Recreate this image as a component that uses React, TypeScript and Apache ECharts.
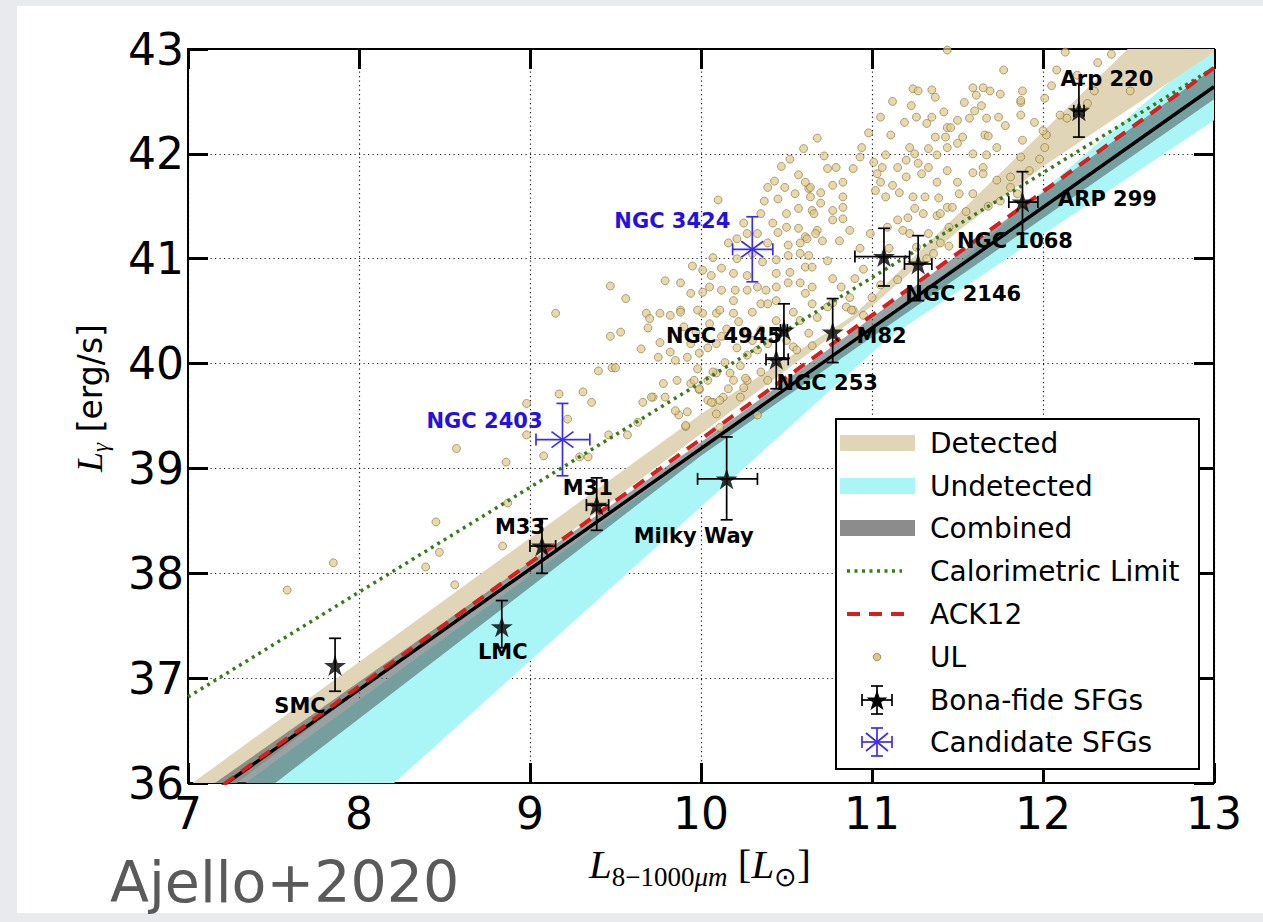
import React, { useEffect, useRef } from "react";
import * as echarts from "echarts";

// ---------- axis ranges ----------
const xRange = [7, 13];
const yRange = [36, 43];

// ---------- fit lines (x endpoints, y endpoints) ----------
const fitX = [7, 13];
const combinedFitY = [35.74, 42.64];
const ack12Y = [35.74, 42.82];
const calorimetricY = [36.82, 42.82];

// ---------- uncertainty bands (edge vertices, data units) ----------
const detectedUpper = [[7, 35.97], [10, 39.52], [10.9, 40.47], [13, 43.8]];
const detectedLower = [[7, 35.65], [10, 39.33], [11, 40.55], [11.5, 41.26], [12, 41.88], [13, 42.97]];
const undetectedUpper = [[7, 35.6], [11.5, 40.95], [13, 43.05]];
const undetectedLower = [[7, 34.23], [11.1, 40.25], [13, 42.32]];
const combinedUpper = [[7, 35.82], [10, 39.25], [13, 42.82]];
const combinedLower = [[7, 35.36], [10, 39.12], [13, 42.52]];

// ---------- bona-fide SFGs ----------
const sfgNames = ["SMC", "LMC", "M33", "M31", "Milky Way", "NGC 253", "NGC 4945", "M82", "NGC 2146", "NGC 1068", "ARP 299", "Arp 220"];
const sfgLIR = [7.86, 8.835, 9.07, 9.39, 10.15, 10.44, 10.485, 10.77, 11.27, 11.07, 11.88, 12.21];
const sfgLg = [37.12, 37.49, 38.26, 38.65, 38.9, 40.04, 40.32, 40.3, 40.95, 41.02, 41.54, 42.41];
const sfgXErrLo = [0, 0, 0.07, 0.06, 0.17, 0.06, 0.02, 0, 0.08, 0.17, 0.08, 0.03];
const sfgXErrHi = [0, 0, 0.08, 0.07, 0.18, 0.07, 0.02, 0, 0.08, 0.15, 0.09, 0.03];
const sfgYErrLo = [0.245, 0.2, 0.26, 0.24, 0.39, 0.28, 0.27, 0.29, 0.35, 0.28, 0.3, 0.25];
const sfgYErrHi = [0.26, 0.25, 0.26, 0.26, 0.4, 0.28, 0.25, 0.32, 0.27, 0.27, 0.29, 0.26];
// label offsets from the star (pixels)
const sfgLabelOffset = [[-35, 40], [1, 25], [-22, -19], [-9, -17], [-33, 57], [51, 24], [-60, 6], [49, 4], [45, 30], [131, -16], [85, -3], [28, -32]];

// ---------- candidate SFGs ----------
const candNames = ["NGC 3424", "NGC 2403"];
const candLIR = [10.3, 9.19];
const candLg = [41.09, 39.275];
const candXErrLo = [0.115, 0.155];
const candXErrHi = [0.12, 0.16];
const candYErrLo = [0.31, 0.345];
const candYErrHi = [0.31, 0.345];
const candLabelOffset = [[-80, -28], [-78, -19]];

// ---------- upper limits (UL) ----------
const ulPoints = [
  [7.58, 37.84], [7.85, 38.1], [8.39, 38.06], [8.56, 37.89], [8.45, 38.49], [8.47, 38.2], [8.84, 38.26], [8.87, 38.67],
  [8.57, 39.19], [8.86, 39.06], [8.98, 39.62], [8.98, 39.32], [9.08, 39.12], [9.17, 39.71], [9.22, 39.47], [9.31, 39.73],
  [9.36, 39.63], [9.29, 39.11], [9.34, 39.11], [9.46, 39.32], [9.57, 39.32], [9.63, 39.44], [9.48, 39.96], [9.4, 39.93],
  [9.5, 39.96], [9.15, 40.48], [9.47, 40.26], [9.53, 40.3], [9.47, 40.74], [9.56, 40.62], [9.68, 40.48], [9.65, 40.14],
  [9.66, 39.63], [9.72, 39.68], [9.87, 39.51], [9.91, 39.4], [9.78, 39.81], [9.94, 39.81], [9.99, 39.75], [10.07, 39.63],
  [10.13, 39.68], [10.23, 39.68], [10.33, 39.51], [10.19, 39.84], [10.09, 39.91], [10.27, 39.84], [10.39, 39.84],
  [9.76, 40.48], [9.82, 40.46], [9.7, 40.43], [9.88, 40.51], [9.69, 40.34], [9.76, 40.2], [9.82, 40.11], [9.75, 40.06],
  [9.85, 40.03], [9.92, 40.06], [9.94, 40.19], [9.99, 40.1], [10.04, 40.15], [10.09, 40.19], [10.14, 40.01], [10.21, 40.15],
  [10.27, 40.08], [10.33, 40.13], [10.39, 40.19], [10.23, 39.98], [10.35, 39.92], [10.17, 39.91], [10.07, 39.92], [10.04, 39.84],
  [9.96, 39.84], [9.86, 39.84], [9.98, 39.95], [9.71, 39.68], [9.79, 39.68], [9.85, 39.55], [9.92, 39.54], [9.91, 39.41],
  [9.99, 39.76], [10.04, 39.65], [10.09, 39.52], [10.11, 39.65], [10.16, 39.76], [10.25, 39.77], [10.01, 40.48], [10.09, 40.48],
  [10.19, 40.48], [10.3, 40.49], [10.35, 40.57], [10.44, 40.41], [10.54, 40.49], [10.58, 40.41], [10.63, 40.29], [10.68, 40.44],
  [10.74, 40.54], [10.85, 40.54], [10.89, 40.51], [10.95, 40.46], [10.54, 40.16], [10.56, 40.13], [10.35, 40.32], [10.27, 40.29],
  [10.65, 40.17], [10.26, 39.86], [10.11, 39.39], [10.06, 39.63],
  [10.43, 41.74], [10.1, 41.56], [10.37, 41.55], [10.45, 41.57], [10.57, 41.48], [10.63, 41.67], [10.25, 41.34], [10.42, 41.34],
  [10.45, 41.25], [10.5, 41.3], [10.57, 41.29], [10.61, 41.21], [10.16, 41.15], [10.21, 41.19], [10.07, 41.01], [10.12, 40.91],
  [10.19, 40.86], [10.21, 41.0], [10.27, 40.84], [10.36, 40.97], [10.44, 40.99], [10.44, 40.86], [10.51, 41.03], [10.52, 40.87],
  [10.58, 41.05], [10.61, 40.92], [9.95, 40.93], [10.01, 40.89], [10.06, 40.84], [10.05, 40.73], [10.01, 40.68], [10.12, 40.7],
  [10.2, 40.7], [10.27, 40.7], [10.33, 40.73], [10.38, 40.7], [10.44, 40.73], [10.51, 40.77], [10.58, 40.77], [10.39, 40.57],
  [9.79, 40.79], [9.88, 40.49],
  [11.44, 42.99], [11.77, 42.8], [11.24, 42.62], [11.27, 42.6], [11.35, 42.61], [11.37, 42.54], [11.59, 42.63], [11.69, 42.6],
  [11.75, 42.57], [11.61, 42.56], [11.54, 42.49], [11.23, 42.46], [11.42, 42.4], [11.6, 42.41], [11.64, 42.46], [11.87, 42.49],
  [11.88, 42.6], [11.19, 42.3], [11.26, 42.35], [11.35, 42.35], [11.32, 42.29], [11.44, 42.25], [11.5, 42.32], [11.57, 42.34],
  [11.67, 42.34], [11.74, 42.35], [11.78, 42.27], [11.87, 42.37], [11.37, 42.16], [11.43, 42.16], [11.53, 42.16], [11.5, 42.1],
  [11.44, 42.06], [11.66, 42.18], [11.73, 42.06], [11.67, 41.99], [11.59, 42.0], [11.38, 41.99], [11.33, 42.05], [11.25, 42.0],
  [11.22, 42.06], [11.08, 41.99], [11.11, 42.18], [10.94, 42.06], [10.93, 41.97], [11.01, 41.92], [11.06, 41.87], [11.03, 41.81],
  [11.15, 41.87], [11.2, 41.94], [11.27, 41.91], [11.33, 41.87], [11.29, 41.81], [11.2, 41.78], [11.12, 41.7], [11.05, 41.73],
  [11.02, 41.65], [11.08, 41.59], [11.16, 41.63], [11.24, 41.59], [11.31, 41.59], [11.39, 41.58], [11.25, 41.48], [11.3, 41.43],
  [11.21, 41.39], [11.15, 41.37], [11.18, 41.27], [11.09, 41.3], [10.99, 41.24], [10.87, 41.27], [10.83, 41.38], [10.83, 41.49],
  [10.77, 41.46], [10.7, 41.53], [10.65, 41.46], [10.77, 41.37], [10.68, 41.27], [10.62, 41.19], [10.71, 41.17], [10.81, 41.17],
  [10.63, 41.03], [10.74, 40.98], [10.65, 40.92], [10.77, 40.81], [10.65, 40.73], [10.82, 40.73], [10.9, 40.81], [10.77, 40.58],
  [10.87, 40.63], [11.0, 40.63], [10.88, 40.51], [11.22, 41.24], [11.33, 41.24], [11.26, 41.11], [11.38, 41.41], [11.44, 41.49],
  [11.51, 41.62], [11.59, 41.62], [11.5, 41.73], [11.73, 41.75], [11.81, 41.78], [11.59, 41.82], [11.65, 41.87], [11.38, 41.73],
  [11.44, 41.84], [12.13, 42.97], [12.32, 42.87], [12.08, 42.8], [12.01, 42.53], [12.02, 42.18], [12.01, 42.06], [11.88, 42.13],
  [11.87, 41.97], [12.26, 42.48], [12.51, 42.6], [10.64, 41.68], [10.7, 41.63], [10.77, 41.7], [10.83, 41.73], [10.89, 41.86],
  [10.83, 41.59], [10.79, 41.87], [10.74, 41.86], [11.92, 41.84], [11.65, 41.81], [11.68, 42.17], [11.87, 42.51], [12.1, 42.37],
  [12.14, 42.34], [11.47, 41.49], [11.4, 41.43], [11.81, 41.68], [11.65, 42.63], [11.46, 42.25], [12.0, 42.22], [11.05, 42.35],
  [11.12, 42.5], [10.98, 42.2], [10.52, 41.95], [10.6, 42.05], [10.47, 41.88], [10.68, 42.15], [10.72, 41.98], [10.57, 41.8],
  [11.1, 41.1], [11.15, 40.8], [11.05, 40.75], [10.95, 40.9], [10.93, 41.1], [11.32, 41.0], [11.4, 41.15], [11.45, 41.3],
  [11.55, 41.45],
  [10.64, 41.59], [10.66, 41.43], [10.67, 41.24], [10.58, 41.15], [10.51, 41.13], [10.39, 41.15], [10.33, 41.24], [10.3, 41.05],
  [10.27, 41.24], [10.35, 41.43], [10.5, 41.43], [10.55, 41.62], [10.49, 41.68], [10.39, 41.68], [10.61, 41.73], [9.94, 40.67],
  [9.88, 40.77], [9.98, 40.51], [10.11, 40.51], [10.19, 40.6], [10.44, 40.6], [10.61, 40.67], [10.65, 40.57], [11.36, 41.05],
  [11.45, 41.12], [11.68, 41.5], [11.75, 41.55], [11.85, 41.62], [12.05, 42.65], [12.2, 42.75], [12.4, 42.95], [12.3, 42.6],
  [11.95, 42.3], [11.98, 41.95], [9.97, 40.3], [10.05, 40.38], [10.15, 40.33], [10.22, 40.4], [10.12, 40.26], [9.9, 40.35],
  [10.3, 40.22], [10.45, 40.3], [10.5, 40.22],
];

// ---------- legend entries ----------
const legendLabels = ["Detected", "Undetected", "Combined", "Calorimetric Limit", "ACK12", "UL", "Bona-fide SFGs", "Candidate SFGs"];

// ---------- styles ----------
const TAN = "#e1d5b8";
const CYAN = "#aaf5f5";
const GRAY_BAND = "rgba(80,95,95,0.58)";
const BLUE = "#2410e0";
const BLUE_LINE = "#3b2ee8";
const GREEN = "#3a7a1a";
const RED = "#d42020";
const STAR_PATH = "path://M50,0 L61.8,36.2 L100,36.2 L69.1,58.6 L80.9,95.1 L50,72.6 L19.1,95.1 L30.9,58.6 L0,36.2 L38.2,36.2 Z";
const SANS = "DejaVu Sans";
const SERIF = "Liberation Serif";

function bandSeries(upper: number[][], lower: number[][], color: string, z: number) {
  return {
    type: "custom",
    coordinateSystem: "cartesian2d",
    clip: true,
    silent: true,
    z,
    data: [[10, 40]],
    renderItem: (_params: any, api: any) => {
      const pts = upper.map((p) => api.coord(p)).concat(lower.slice().reverse().map((p) => api.coord(p)));
      return { type: "polygon", shape: { points: pts }, style: { fill: color } };
    },
  };
}

function errorSeries(rows: number[][], color: string, cross: boolean, z: number) {
  return {
    type: "custom",
    coordinateSystem: "cartesian2d",
    silent: true,
    z,
    data: rows,
    renderItem: (_params: any, api: any) => {
      const x = api.value(0), y = api.value(1);
      const xl = api.value(2), xh = api.value(3), yl = api.value(4), yh = api.value(5);
      const c = api.coord([x, y]);
      const top = api.coord([x, y + yh]);
      const bot = api.coord([x, y - yl]);
      const lft = api.coord([x - xl, y]);
      const rgt = api.coord([x + xh, y]);
      const st = { stroke: color, lineWidth: 1.7 };
      const cap = 6;
      const ch: any[] = [
        { type: "line", shape: { x1: c[0], y1: top[1], x2: c[0], y2: bot[1] }, style: st },
        { type: "line", shape: { x1: c[0] - cap, y1: top[1], x2: c[0] + cap, y2: top[1] }, style: st },
        { type: "line", shape: { x1: c[0] - cap, y1: bot[1], x2: c[0] + cap, y2: bot[1] }, style: st },
      ];
      if (xl > 0 || xh > 0) {
        ch.push({ type: "line", shape: { x1: lft[0], y1: c[1], x2: rgt[0], y2: c[1] }, style: st });
        ch.push({ type: "line", shape: { x1: lft[0], y1: c[1] - cap, x2: lft[0], y2: c[1] + cap }, style: st });
        ch.push({ type: "line", shape: { x1: rgt[0], y1: c[1] - cap, x2: rgt[0], y2: c[1] + cap }, style: st });
      }
      if (cross) {
        const dx = 11, dy = 8;
        ch.push({ type: "line", shape: { x1: c[0] - dx, y1: c[1] - dy, x2: c[0] + dx, y2: c[1] + dy }, style: st });
        ch.push({ type: "line", shape: { x1: c[0] - dx, y1: c[1] + dy, x2: c[0] + dx, y2: c[1] - dy }, style: st });
      }
      return { type: "group", children: ch };
    },
  };
}

function starPoints(cx: number, cy: number, R: number) {
  const pts: number[][] = [];
  for (let i = 0; i < 10; i++) {
    const a = -Math.PI / 2 + (i * Math.PI) / 5;
    const r = i % 2 === 0 ? R : R * 0.4;
    pts.push([cx + r * Math.cos(a), cy + r * Math.sin(a)]);
  }
  return pts;
}

function txt(x: number, y: number, text: string, font: string, fill: string, align = "left", z = 102) {
  return {
    type: "text",
    x,
    y,
    z,
    style: { text, font, fill, align, verticalAlign: "middle", textAlign: align, textVerticalAlign: "middle" },
  };
}

function buildLegend() {
  const rowsY = [443, 486, 528, 571, 614, 657, 700, 742];
  const els: any[] = [
    { type: "rect", shape: { x: 836, y: 419, width: 363, height: 350 }, style: { fill: "#fff", stroke: "#000", lineWidth: 2 }, z: 100 },
    { type: "rect", shape: { x: 840, y: rowsY[0] - 8, width: 75, height: 16 }, style: { fill: TAN }, z: 101 },
    { type: "rect", shape: { x: 840, y: rowsY[1] - 8, width: 75, height: 16 }, style: { fill: CYAN }, z: 101 },
    { type: "rect", shape: { x: 840, y: rowsY[2] - 8, width: 75, height: 16 }, style: { fill: "#8c8c8c" }, z: 101 },
    { type: "line", shape: { x1: 847, y1: rowsY[3], x2: 902, y2: rowsY[3] }, style: { stroke: GREEN, lineWidth: 3.5, lineDash: [3, 4.5] }, z: 101 },
    { type: "line", shape: { x1: 847, y1: rowsY[4], x2: 908, y2: rowsY[4] }, style: { stroke: RED, lineWidth: 4, lineDash: [13, 9] }, z: 101 },
    { type: "circle", shape: { cx: 877, cy: rowsY[5], r: 3.8 }, style: { fill: "#dcc788", stroke: "#9a8650", lineWidth: 0.9 }, z: 101 },
  ];
  const st = { stroke: "#000", lineWidth: 1.7 };
  const by = rowsY[6];
  els.push(
    { type: "line", shape: { x1: 877, y1: by - 14, x2: 877, y2: by + 14 }, style: st, z: 101 },
    { type: "line", shape: { x1: 871, y1: by - 14, x2: 883, y2: by - 14 }, style: st, z: 101 },
    { type: "line", shape: { x1: 871, y1: by + 14, x2: 883, y2: by + 14 }, style: st, z: 101 },
    { type: "line", shape: { x1: 862, y1: by, x2: 892, y2: by }, style: st, z: 101 },
    { type: "line", shape: { x1: 862, y1: by - 6, x2: 862, y2: by + 6 }, style: st, z: 101 },
    { type: "line", shape: { x1: 892, y1: by - 6, x2: 892, y2: by + 6 }, style: st, z: 101 },
    { type: "polygon", shape: { points: starPoints(877, by + 1, 11) }, style: { fill: "#000" }, z: 102 }
  );
  const cy = rowsY[7];
  const sb = { stroke: BLUE_LINE, lineWidth: 1.7 };
  els.push(
    { type: "line", shape: { x1: 877, y1: cy - 14, x2: 877, y2: cy + 14 }, style: sb, z: 101 },
    { type: "line", shape: { x1: 871, y1: cy - 14, x2: 883, y2: cy - 14 }, style: sb, z: 101 },
    { type: "line", shape: { x1: 871, y1: cy + 14, x2: 883, y2: cy + 14 }, style: sb, z: 101 },
    { type: "line", shape: { x1: 862, y1: cy, x2: 892, y2: cy }, style: sb, z: 101 },
    { type: "line", shape: { x1: 862, y1: cy - 6, x2: 862, y2: cy + 6 }, style: sb, z: 101 },
    { type: "line", shape: { x1: 892, y1: cy - 6, x2: 892, y2: cy + 6 }, style: sb, z: 101 },
    { type: "line", shape: { x1: 866, y1: cy - 9, x2: 888, y2: cy + 9 }, style: sb, z: 101 },
    { type: "line", shape: { x1: 866, y1: cy + 9, x2: 888, y2: cy - 9 }, style: sb, z: 101 }
  );
  legendLabels.forEach((t, i) => els.push(txt(930, rowsY[i], t, `28px '${SANS}'`, "#000")));
  return els;
}

function buildTitles() {
  return [
    {
      type: "text",
      x: 90,
      y: 398,
      rotation: Math.PI / 2,
      z: 100,
      style: {
        text: "{L|L}{g|γ}{n| [erg/s]}",
        align: "center",
        verticalAlign: "middle",
        textAlign: "center",
        textVerticalAlign: "middle",
        fill: "#000",
        rich: {
          L: { fontFamily: SERIF, fontStyle: "italic", fontSize: 36, lineHeight: 36, fill: "#000" },
          g: { fontFamily: SERIF, fontStyle: "italic", fontSize: 23, lineHeight: 23, padding: [21, 0, 0, 0], fill: "#000" },
          n: { fontFamily: SANS, fontSize: 33, lineHeight: 36, fill: "#000" },
        },
      },
    },
    {
      type: "text",
      x: 700,
      y: 864,
      z: 100,
      style: {
        text: "{L|L}{s|8−1000}{si|μm}{n| [}{L|L}{s|⊙}{n|]}",
        align: "center",
        verticalAlign: "middle",
        textAlign: "center",
        textVerticalAlign: "middle",
        fill: "#000",
        rich: {
          L: { fontFamily: SERIF, fontStyle: "italic", fontSize: 41, lineHeight: 41, fill: "#000" },
          s: { fontFamily: SERIF, fontSize: 27, lineHeight: 27, padding: [26, 0, 0, 0], fill: "#000" },
          si: { fontFamily: SERIF, fontStyle: "italic", fontSize: 27, lineHeight: 27, padding: [26, 0, 0, 0], fill: "#000" },
          n: { fontFamily: SERIF, fontSize: 41, lineHeight: 41, fill: "#000" },
        },
      },
    },
    txt(110, 882, "Ajello+2020", `57px '${SANS}'`, "#5a5a5a", "left", 100),
  ];
}

export default function App() {
  const ref = useRef<HTMLDivElement>(null);
  useEffect(() => {
    if (!ref.current) return;
    const chart = echarts.init(ref.current, undefined, { renderer: "svg" });

    const sfgRows = sfgNames.map((_, i) => [sfgLIR[i], sfgLg[i], sfgXErrLo[i], sfgXErrHi[i], sfgYErrLo[i], sfgYErrHi[i]]);
    const candRows = candNames.map((_, i) => [candLIR[i], candLg[i], candXErrLo[i], candXErrHi[i], candYErrLo[i], candYErrHi[i]]);

    const axisCommon = {
      type: "value",
      interval: 1,
      axisLine: { show: true, onZero: false, lineStyle: { color: "#000", width: 2 } },
      axisTick: { show: true, inside: true, length: 20, lineStyle: { color: "#000", width: 3 } },
    };
    const gridLine = { show: true, lineStyle: { color: "#222", width: 1.2, type: [1.2, 3.3] } };

    const option: any = {
      animation: false,
      backgroundColor: "transparent",
      grid: { left: 188, top: 49, width: 1026, height: 734, containLabel: false },
      xAxis: [
        {
          ...axisCommon,
          min: xRange[0],
          max: xRange[1],
          position: "bottom",
          axisLabel: { show: true, fontSize: 44, fontFamily: SANS, color: "#000", margin: 8 },
          splitLine: gridLine,
        },
        { ...axisCommon, min: xRange[0], max: xRange[1], position: "top", axisLabel: { show: false }, splitLine: { show: false } },
      ],
      yAxis: [
        {
          ...axisCommon,
          min: yRange[0],
          max: yRange[1],
          position: "left",
          axisLabel: { show: true, fontSize: 44, fontFamily: SANS, color: "#000", margin: 4 },
          splitLine: gridLine,
        },
        { ...axisCommon, min: yRange[0], max: yRange[1], position: "right", axisLabel: { show: false }, splitLine: { show: false } },
      ],
      series: [
        bandSeries(undetectedUpper, undetectedLower, CYAN, 1),
        bandSeries(detectedUpper, detectedLower, TAN, 2),
        bandSeries(combinedUpper, combinedLower, GRAY_BAND, 3),
        {
          type: "scatter",
          z: 4,
          silent: true,
          symbol: "circle",
          symbolSize: 8,
          data: ulPoints,
          itemStyle: { color: "rgba(222,200,136,0.88)", borderColor: "rgba(130,110,60,0.85)", borderWidth: 0.9 },
        },
        {
          type: "line",
          z: 5,
          silent: true,
          symbol: "none",
          data: fitX.map((x, i) => [x, calorimetricY[i]]),
          lineStyle: { color: GREEN, width: 3.5, type: [3, 4.5] },
        },
        {
          type: "line",
          z: 5,
          silent: true,
          symbol: "none",
          data: fitX.map((x, i) => [x, combinedFitY[i]]),
          lineStyle: { color: "#000", width: 3.4 },
        },
        {
          type: "line",
          z: 6,
          silent: true,
          symbol: "none",
          data: fitX.map((x, i) => [x, ack12Y[i]]),
          lineStyle: { color: RED, width: 4, type: [13, 9] },
        },
        errorSeries(sfgRows, "#000", false, 7),
        errorSeries(candRows, BLUE_LINE, true, 7),
        {
          type: "scatter",
          z: 8,
          silent: true,
          symbol: STAR_PATH,
          symbolSize: 22,
          symbolKeepAspect: true,
          data: sfgNames.map((_, i) => [sfgLIR[i], sfgLg[i]]),
          itemStyle: { color: "#000" },
        },
      ],
    };
    chart.setOption(option);

    // galaxy name labels, placed through the chart's own scales
    const labelEls: any[] = [];
    const starSeriesIndex = option.series.length - 1;
    sfgNames.forEach((n, i) => {
      const p = chart.convertToPixel({ seriesIndex: starSeriesIndex }, [sfgLIR[i], sfgLg[i]]) as number[];
      labelEls.push(txt(p[0] + sfgLabelOffset[i][0], p[1] + sfgLabelOffset[i][1], n, `bold 21px '${SANS}'`, "#000", "center", 60));
    });
    candNames.forEach((n, i) => {
      const p = chart.convertToPixel({ seriesIndex: starSeriesIndex }, [candLIR[i], candLg[i]]) as number[];
      labelEls.push(txt(p[0] + candLabelOffset[i][0], p[1] + candLabelOffset[i][1], n, `bold 21px '${SANS}'`, BLUE, "center", 60));
    });

    chart.setOption({ graphic: [...labelEls, ...buildLegend(), ...buildTitles()] });
    return () => chart.dispose();
  }, []);

  return (
    <div style={{ position: "fixed", left: 0, top: 0, width: 1263, height: 922, background: "#e9eaed" }}>
      <div style={{ position: "absolute", left: 17, top: 6, width: 1246, height: 907, background: "#fff" }} />
      <div ref={ref} style={{ position: "absolute", left: 0, top: 0, width: 1263, height: 922 }} />
    </div>
  );
}
